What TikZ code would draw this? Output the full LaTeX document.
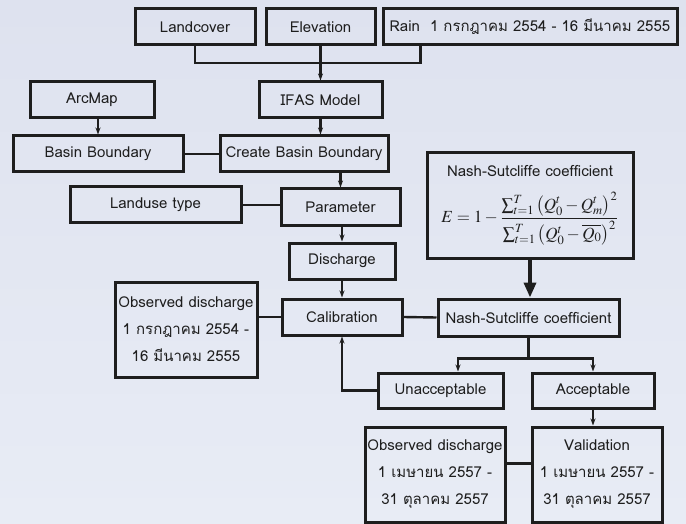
\documentclass[tikz,border=0pt]{standalone}
\usepackage{mathptmx}
\usepackage{fontspec}
\setmainfont[Script=Thai]{Loma}
\usetikzlibrary{arrows.meta,calc}
\definecolor{bgtop}{RGB}{222,226,239}
\definecolor{bgbot}{RGB}{232,236,245}
\definecolor{ink}{RGB}{30,30,30}

\begin{document}
\begin{tikzpicture}
[x=1pt, y=-1pt,
    every node/.style={font=\fontsize{15}{27}\selectfont, text=ink},
    box/.style={draw=ink, line width=3pt, inner sep=2pt, align=center, minimum height=36pt},
    link/.style={ink, line width=2.4pt},
    flow/.style={link, -{Stealth[length=7pt,width=5pt]}},
    bigflow/.style={ink, line width=3.5pt, -{Triangle[length=15pt,width=12pt]}}]
    \shade[top color=bgtop, bottom color=bgbot] (0,0) rectangle (686,524);
    \useasboundingbox (0,0) rectangle (686,524);

    \node[box, minimum width=120pt] (landcover) at (195,27) {Landcover};
    \node[box, minimum width=109pt] (elevation) at (320.5,27) {Elevation};
    \node[box, minimum width=294pt] (rain) at (530,27) {Rain\ \ 1 กรกฎาคม 2554 - 16 มีนาคม 2555};
    \node[box, minimum width=124pt] (arcmap) at (92,100) {ArcMap};
    \node[box, minimum width=123pt] (ifas) at (320.5,100) {IFAS Model};
    \node[box, minimum width=170pt] (basin) at (98,154) {Basin Boundary};
    \node[box, minimum width=168pt] (create) at (304,154) {Create Basin Boundary};
    \node[box, minimum width=171pt] (landuse) at (155.5,205) {Landuse type};
    \node[box, minimum width=119pt, minimum height=37pt] (parameter) at (340.5,207.5) {Parameter};
    \node[box, minimum width=106pt] (discharge) at (342,261) {Discharge};
    \node[box, minimum width=120pt] (calibration) at (342,317) {Calibration};
    \node[box, minimum width=142pt, minimum height=95pt] (obscal) at (186,329.5)
        {Observed discharge\\1 กรกฎาคม 2554 -\\16 มีนาคม 2555};
    \node[box, minimum width=206pt, minimum height=105pt] (formula) at (530,205.5)
        {Nash-Sutcliffe coefficient\\[14pt]
        {\fontsize{17}{20}\selectfont
        $\displaystyle E=1-\frac{\sum\nolimits_{t=1}^{T}\left(Q_0^t-Q_m^t\right)^2}{\sum\nolimits_{t=1}^{T}\left(Q_0^t-\overline{Q_0}\right)^2}$}};
    \node[box, minimum width=181pt, minimum height=37pt] (nash) at (528.5,317.5) {Nash-Sutcliffe coefficient};
    \node[box, minimum width=125pt, minimum height=35pt] (unacceptable) at (440.5,390.5) {Unacceptable};
    \node[box, minimum width=122pt, minimum height=35pt] (acceptable) at (593,390.5) {Acceptable};
    \node[box, minimum width=140pt, minimum height=95pt] (obsval) at (435,474.5)
        {Observed discharge\\1 เมษายน 2557 -\\31 ตุลาคม 2557};
    \node[box, minimum width=130pt, minimum height=95pt] (validation) at (597,474.5)
        {Validation\\1 เมษายน 2557 -\\31 ตุลาคม 2557};

    \coordinate (joint) at (320.5,63);
    \draw[link] (landcover.south) |- (joint) -| ([xshift=39pt]rain.south west);
    \draw[flow] (elevation.south) -- (ifas.north);
    \draw[flow] (arcmap.south -| basin.north) -- (basin.north);
    \draw[flow] (ifas.south) -- (ifas.south |- create.north);
    \draw[link] (basin.east) -- (create.west);
    \draw[flow] (create.south -| parameter.north) -- (parameter.north);
    \draw[link] (landuse.east) -- (landuse.east -| parameter.west);
    \draw[flow] (parameter.south -| discharge.north) -- (discharge.north);
    \draw[flow] (discharge.south) -- (calibration.north);
    \draw[link] (calibration.west -| obscal.east) -- (calibration.west);
    \draw[link] (calibration.east) -- (nash.west);
    \draw[bigflow] (formula.south) -- (formula.south |- nash.north);
    \draw[flow] (nash.south) -- ++(0,21) -| ([xshift=17.5pt]unacceptable.north);
    \draw[flow] (nash.south) -- ++(0,21) -| (acceptable.north);
    \draw[flow] (unacceptable.west) -| (calibration.south);
    \draw[flow] (acceptable.south) -- (acceptable.south |- validation.north);
    \draw[link] ([yshift=11pt]obsval.east) -- ([yshift=11pt]validation.west);
\end{tikzpicture}
\end{document}
